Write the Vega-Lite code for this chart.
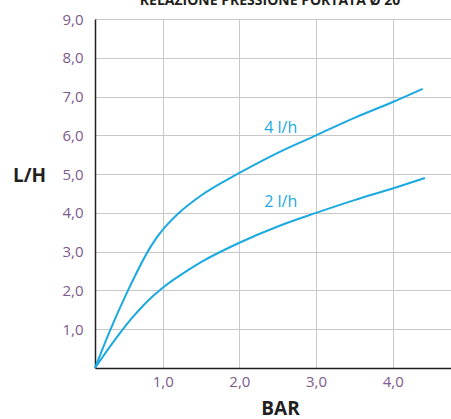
{
  "$schema": "https://vega.github.io/schema/vega-lite/v6.json",
  "autosize": {"type": "none"},
  "width": 356,
  "height": 349,
  "padding": {"left": 95, "top": 19, "right": 0, "bottom": 51},
  "background": "white",
  "config": {"view": {"stroke": null}, "font": "Open Sans"},
  "datasets": {
    "curves": [
      {"bar": 0.117, "lh": 0, "serie": "4 l/h"},
      {"bar": 0.31, "lh": 0.95, "serie": "4 l/h"},
      {"bar": 0.535, "lh": 1.95, "serie": "4 l/h"},
      {"bar": 0.85, "lh": 3.15, "serie": "4 l/h"},
      {"bar": 0.95, "lh": 3.44, "serie": "4 l/h"},
      {"bar": 1.05, "lh": 3.68, "serie": "4 l/h"},
      {"bar": 1.2, "lh": 3.98, "serie": "4 l/h"},
      {"bar": 1.5, "lh": 4.45, "serie": "4 l/h"},
      {"bar": 2.0, "lh": 5.03, "serie": "4 l/h"},
      {"bar": 2.5, "lh": 5.55, "serie": "4 l/h"},
      {"bar": 3.0, "lh": 6.0, "serie": "4 l/h"},
      {"bar": 3.5, "lh": 6.45, "serie": "4 l/h"},
      {"bar": 4.0, "lh": 6.86, "serie": "4 l/h"},
      {"bar": 4.39, "lh": 7.2, "serie": "4 l/h"},
      {"bar": 0.117, "lh": 0, "serie": "2 l/h"},
      {"bar": 0.3, "lh": 0.52, "serie": "2 l/h"},
      {"bar": 0.45, "lh": 0.92, "serie": "2 l/h"},
      {"bar": 0.6, "lh": 1.29, "serie": "2 l/h"},
      {"bar": 0.75, "lh": 1.62, "serie": "2 l/h"},
      {"bar": 0.9, "lh": 1.9, "serie": "2 l/h"},
      {"bar": 1.0, "lh": 2.07, "serie": "2 l/h"},
      {"bar": 1.25, "lh": 2.42, "serie": "2 l/h"},
      {"bar": 1.5, "lh": 2.73, "serie": "2 l/h"},
      {"bar": 2.0, "lh": 3.23, "serie": "2 l/h"},
      {"bar": 2.5, "lh": 3.65, "serie": "2 l/h"},
      {"bar": 3.0, "lh": 4.0, "serie": "2 l/h"},
      {"bar": 3.5, "lh": 4.33, "serie": "2 l/h"},
      {"bar": 4.0, "lh": 4.63, "serie": "2 l/h"},
      {"bar": 4.42, "lh": 4.9, "serie": "2 l/h"}
    ],
    "labels": [
      {"bar": 2.54, "lh": 6.2, "label": "4 l/h"},
      {"bar": 2.54, "lh": 4.29, "label": "2 l/h"}
    ],
    "title": [
      {"bar": 2.4, "lh": 9, "label": "RELAZIONE PRESSIONE PORTATA Ø 20"}
    ]
  },
  "layer": [
    {
      "data": {"name": "curves"},
      "mark": {"type": "line", "color": "#1BA9E1", "strokeWidth": 2, "interpolate": "monotone", "clip": false},
      "encoding": {
        "x": {
          "field": "bar", "type": "quantitative",
          "scale": {"domain": [0.117, 4.76], "nice": false, "zero": false},
          "axis": {
            "values": [1, 2, 3, 4],
            "labelExpr": "replace(format(datum.value, '.1f'), '.', ',')",
            "title": "BAR",
            "titleFont": "Open Sans", "titleFontWeight": "bold", "titleFontSize": 19, "titleColor": "#231f20",
            "titleX": 185, "titleY": 40, "titleBaseline": "middle", "titleAlign": "center", "titleAnchor": null,
            "labelColor": "#7e5a8c", "labelFontSize": 15, "labelPadding": 6,
            "ticks": false,
            "domainColor": "#231f20", "domainWidth": 1.5,
            "gridColor": "#c8c8c8", "gridWidth": 1
          }
        },
        "y": {
          "field": "lh", "type": "quantitative",
          "scale": {"domain": [0, 9], "nice": false},
          "axis": {
            "values": [1, 2, 3, 4, 5, 6, 7, 8, 9],
            "labelExpr": "replace(format(datum.value, '.1f'), '.', ',')",
            "title": "L/H",
            "titleFont": "Open Sans", "titleFontWeight": "bold", "titleFontSize": 19, "titleColor": "#231f20",
            "titleAngle": 0, "titleX": -66, "titleY": 156, "titleBaseline": "middle", "titleAlign": "center", "titleAnchor": null,
            "labelColor": "#7e5a8c", "labelFontSize": 15, "labelPadding": 12,
            "ticks": false,
            "domainColor": "#231f20", "domainWidth": 1.5,
            "gridColor": "#c8c8c8", "gridWidth": 1
          }
        },
        "detail": {"field": "serie"}
      }
    },
    {
      "data": {"name": "labels"},
      "mark": {"type": "text", "color": "#1BA9E1", "fontSize": 16, "font": "Open Sans", "baseline": "middle", "align": "center"},
      "encoding": {
        "x": {"field": "bar", "type": "quantitative"},
        "y": {"field": "lh", "type": "quantitative"},
        "text": {"field": "label"}
      }
    },
    {
      "data": {"name": "title"},
      "mark": {"type": "text", "color": "#231f20", "fontSize": 14, "fontWeight": "bold", "font": "Open Sans", "baseline": "alphabetic", "align": "center", "dy": -14, "clip": false},
      "encoding": {
        "x": {"field": "bar", "type": "quantitative"},
        "y": {"field": "lh", "type": "quantitative"},
        "text": {"field": "label"}
      }
    },
    {
      "mark": {"type": "rule", "color": "#231f20", "strokeWidth": 1.5},
      "encoding": {"y": {"datum": 9}}
    }
  ]
}
